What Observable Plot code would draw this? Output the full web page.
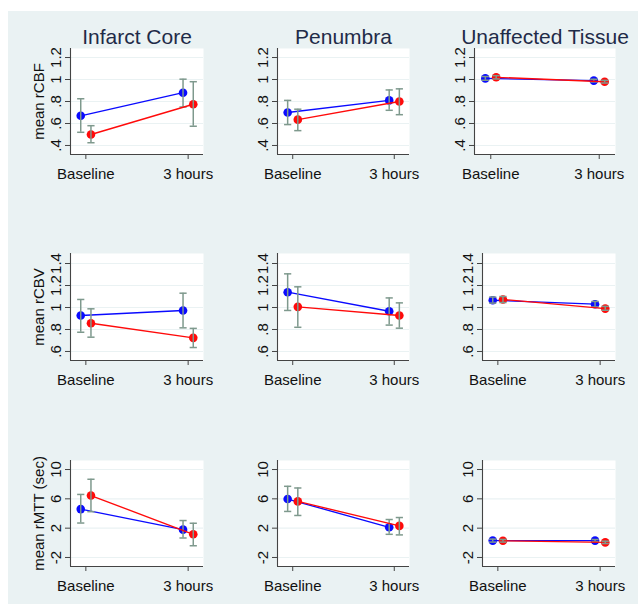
<!DOCTYPE html>
<html>
<head>
<meta charset="utf-8">
<script src="https://cdn.jsdelivr.net/npm/d3@7"></script>
<script src="https://cdn.jsdelivr.net/npm/@observablehq/plot@0.6"></script>
<style>
  html, body { margin: 0; padding: 0; background: white; overflow: hidden; }
  #root { position: relative; width: 638px; height: 604px; overflow: hidden; font-family: "Liberation Sans", Arial, sans-serif; }
  #bg { position: absolute; left: 8px; top: 11px; width: 630px; height: 593px; background: #eaf2f3; }
  #root svg { position: absolute; }
</style>
</head>
<body>
<div id="root"><div id="bg"></div></div>
<script>
// ---- Data ----
const regions = ["Infarct Core", "Penumbra", "Unaffected Tissue"];
const times = ["Baseline", "3 hours"];
const groups = ["Group 1", "Group 2"];           // blue, red
const measureLabels = ["mean rCBF", "mean rCBV", "mean rMTT (sec)"];

// indexed [region][group][time]
const rCBF_mean = [[[0.67, 0.88], [0.50, 0.775]], [[0.70, 0.81], [0.635, 0.80]], [[1.01, 0.99], [1.02, 0.98]]];
const rCBF_lo   = [[[0.52, 0.75], [0.425, 0.575]], [[0.59, 0.72], [0.535, 0.68]], [[0.993, 0.978], [1.005, 0.968]]];
const rCBF_hi   = [[[0.825, 1.003], [0.58, 0.98]], [[0.81, 0.905], [0.73, 0.915]], [[1.027, 1.002], [1.035, 0.992]]];

const rCBV_mean = [[[0.927, 0.973], [0.857, 0.724]], [[1.139, 0.966], [1.006, 0.927]], [[1.066, 1.03], [1.073, 0.99]]];
const rCBV_lo   = [[[0.775, 0.815], [0.73, 0.636]], [[0.973, 0.84], [0.82, 0.812]], [[1.04, 1.005], [1.045, 0.975]]];
const rCBV_hi   = [[[1.073, 1.13], [0.988, 0.81]], [[1.306, 1.087], [1.188, 1.042]], [[1.095, 1.055], [1.10, 1.01]]];

const rMTT_mean = [[[4.6, 1.8], [6.45, 1.16]], [[5.97, 2.12], [5.65, 2.31]], [[0.3, 0.3], [0.28, 0.06]]];
const rMTT_lo   = [[[2.7, 0.66], [4.25, -0.4]], [[4.28, 1.16], [3.73, 1.08]], [[0.1, 0.15], [0.1, -0.1]]];
const rMTT_hi   = [[[6.6, 3.04], [8.67, 2.67]], [[7.71, 3.18], [7.48, 3.45]], [[0.5, 0.45], [0.46, 0.22]]];

const rCBF_ticks = [0.4, 0.6, 0.8, 1, 1.2];
const rCBV_ticks = [0.6, 0.8, 1, 1.2, 1.4];
const rMTT_ticks = [-2, 2, 6, 10];

// ---- Config ----
const measures = [
  {label: measureLabels[0], mean: rCBF_mean, lo: rCBF_lo, hi: rCBF_hi, ticks: rCBF_ticks, domain: [0.318, 1.282]},
  {label: measureLabels[1], mean: rCBV_mean, lo: rCBV_lo, hi: rCBV_hi, ticks: rCBV_ticks, domain: [0.518, 1.491]},
  {label: measureLabels[2], mean: rMTT_mean, lo: rMTT_lo, hi: rMTT_hi, ticks: rMTT_ticks, domain: [-3.23, 11.23]}
];
const colors = ["#0a0aff", "#ff0a0a"];
const dodge = [-0.05, 0.05];
const xDomain = [0.85, 2.15];
const errColor = "#7e998d";
const gridColor = "#eaf2f3";
const axisColor = "#444";
const font = "'Liberation Sans', Arial, sans-serif";

const rowGeom = [{T: 48, B: 154, top: 4}, {T: 253, B: 360, top: 215}, {T: 460, B: 566, top: 420}];
const colGeom = [
  [{L: 70, R: 203, left: 0}, {L: 70, R: 203, left: 0}, {L: 70, R: 203, left: 0}],
  [{L: 277, R: 409, left: 212}, {L: 277, R: 409, left: 212}, {L: 277, R: 409, left: 212}],
  [{L: 474, R: 615, left: 420}, {L: 482, R: 615, left: 420}, {L: 482, R: 615, left: 420}]
];

const capSymbol = { draw(ctx) { ctx.moveTo(-3.6, 0); ctx.lineTo(3.6, 0); } };
const fmt = d => String(d).replace(/^0\./, ".").replace(/^-0\./, "-.");

const root = document.getElementById("root");

measures.forEach((m, mi) => {
  regions.forEach((region, ri) => {
    const rows = [];
    groups.forEach((g, gi) => {
      times.forEach((t, ti) => {
        rows.push({group: g, gi, time: t, x: ti + 1 + dodge[gi],
          mean: m.mean[ri][gi][ti], lo: m.lo[ri][gi][ti], hi: m.hi[ri][gi][ti]});
      });
    });
    const rg = rowGeom[mi], cg = colGeom[ri][mi];
    const marks = [
      Plot.frame({fill: "white", stroke: null}),
      Plot.gridY(m.ticks, {stroke: gridColor, strokeOpacity: 1, strokeWidth: 1.2}),
      Plot.axisY(m.ticks, {tickSize: 5, tickFormat: () => "", label: null, stroke: axisColor}),
      Plot.text(m.ticks, {y: d => d, text: fmt, frameAnchor: "left", dx: -10, rotate: -90,
        textAnchor: "middle", lineAnchor: "bottom", fontSize: 15, fill: "#111"}),
      Plot.axisX([1, 2], {tickSize: 5, tickPadding: 9, tickFormat: d => times[d - 1],
        fontSize: 15, label: null, stroke: axisColor, fill: "#111"}),
      Plot.ruleX([xDomain[0]], {stroke: axisColor, strokeWidth: 1.1}),
      Plot.ruleY([m.domain[0]], {stroke: axisColor, strokeWidth: 1.1})
    ];
    groups.forEach((g, gi) => {
      const d = rows.filter(r => r.gi === gi);
      marks.push(
        Plot.line(d, {x: "x", y: "mean", stroke: colors[gi], strokeWidth: 1.35}),
        Plot.dot(d, {x: "x", y: "mean", fill: colors[gi], r: 4.3}),
        Plot.ruleX(d, {x: "x", y1: "lo", y2: "hi", stroke: errColor, strokeWidth: 1.5}),
        Plot.dot(d, {x: "x", y: "lo", symbol: capSymbol, stroke: errColor, strokeWidth: 1.5, fill: "none"}),
        Plot.dot(d, {x: "x", y: "hi", symbol: capSymbol, stroke: errColor, strokeWidth: 1.5, fill: "none"})
      );
    });
    if (mi === 0) {
      marks.push(Plot.text([region], {frameAnchor: "top", dy: -5, lineAnchor: "bottom",
        textAnchor: "middle", fontSize: 21, fill: "#1f2b48", text: d => d}));
    }
    if (ri === 0) {
      marks.push(Plot.text([m.label], {frameAnchor: "left", dx: -(cg.L - 43), rotate: -90,
        textAnchor: "middle", lineAnchor: "bottom", fontSize: 15, fill: "#111", text: d => d}));
    }
    const svg = Plot.plot({
      width: cg.R - cg.left + 10,
      height: rg.B - rg.top + 30,
      marginLeft: cg.L - cg.left,
      marginRight: 10,
      marginTop: rg.T - rg.top,
      marginBottom: 30,
      x: {domain: xDomain, axis: null},
      y: {domain: m.domain, axis: null},
      style: {background: "transparent", fontFamily: font, fontSize: "15px", overflow: "visible", maxWidth: "none"},
      marks
    });
    svg.style.left = cg.left + "px";
    svg.style.top = rg.top + "px";
    root.appendChild(svg);
  });
});
</script>
</body>
</html>
